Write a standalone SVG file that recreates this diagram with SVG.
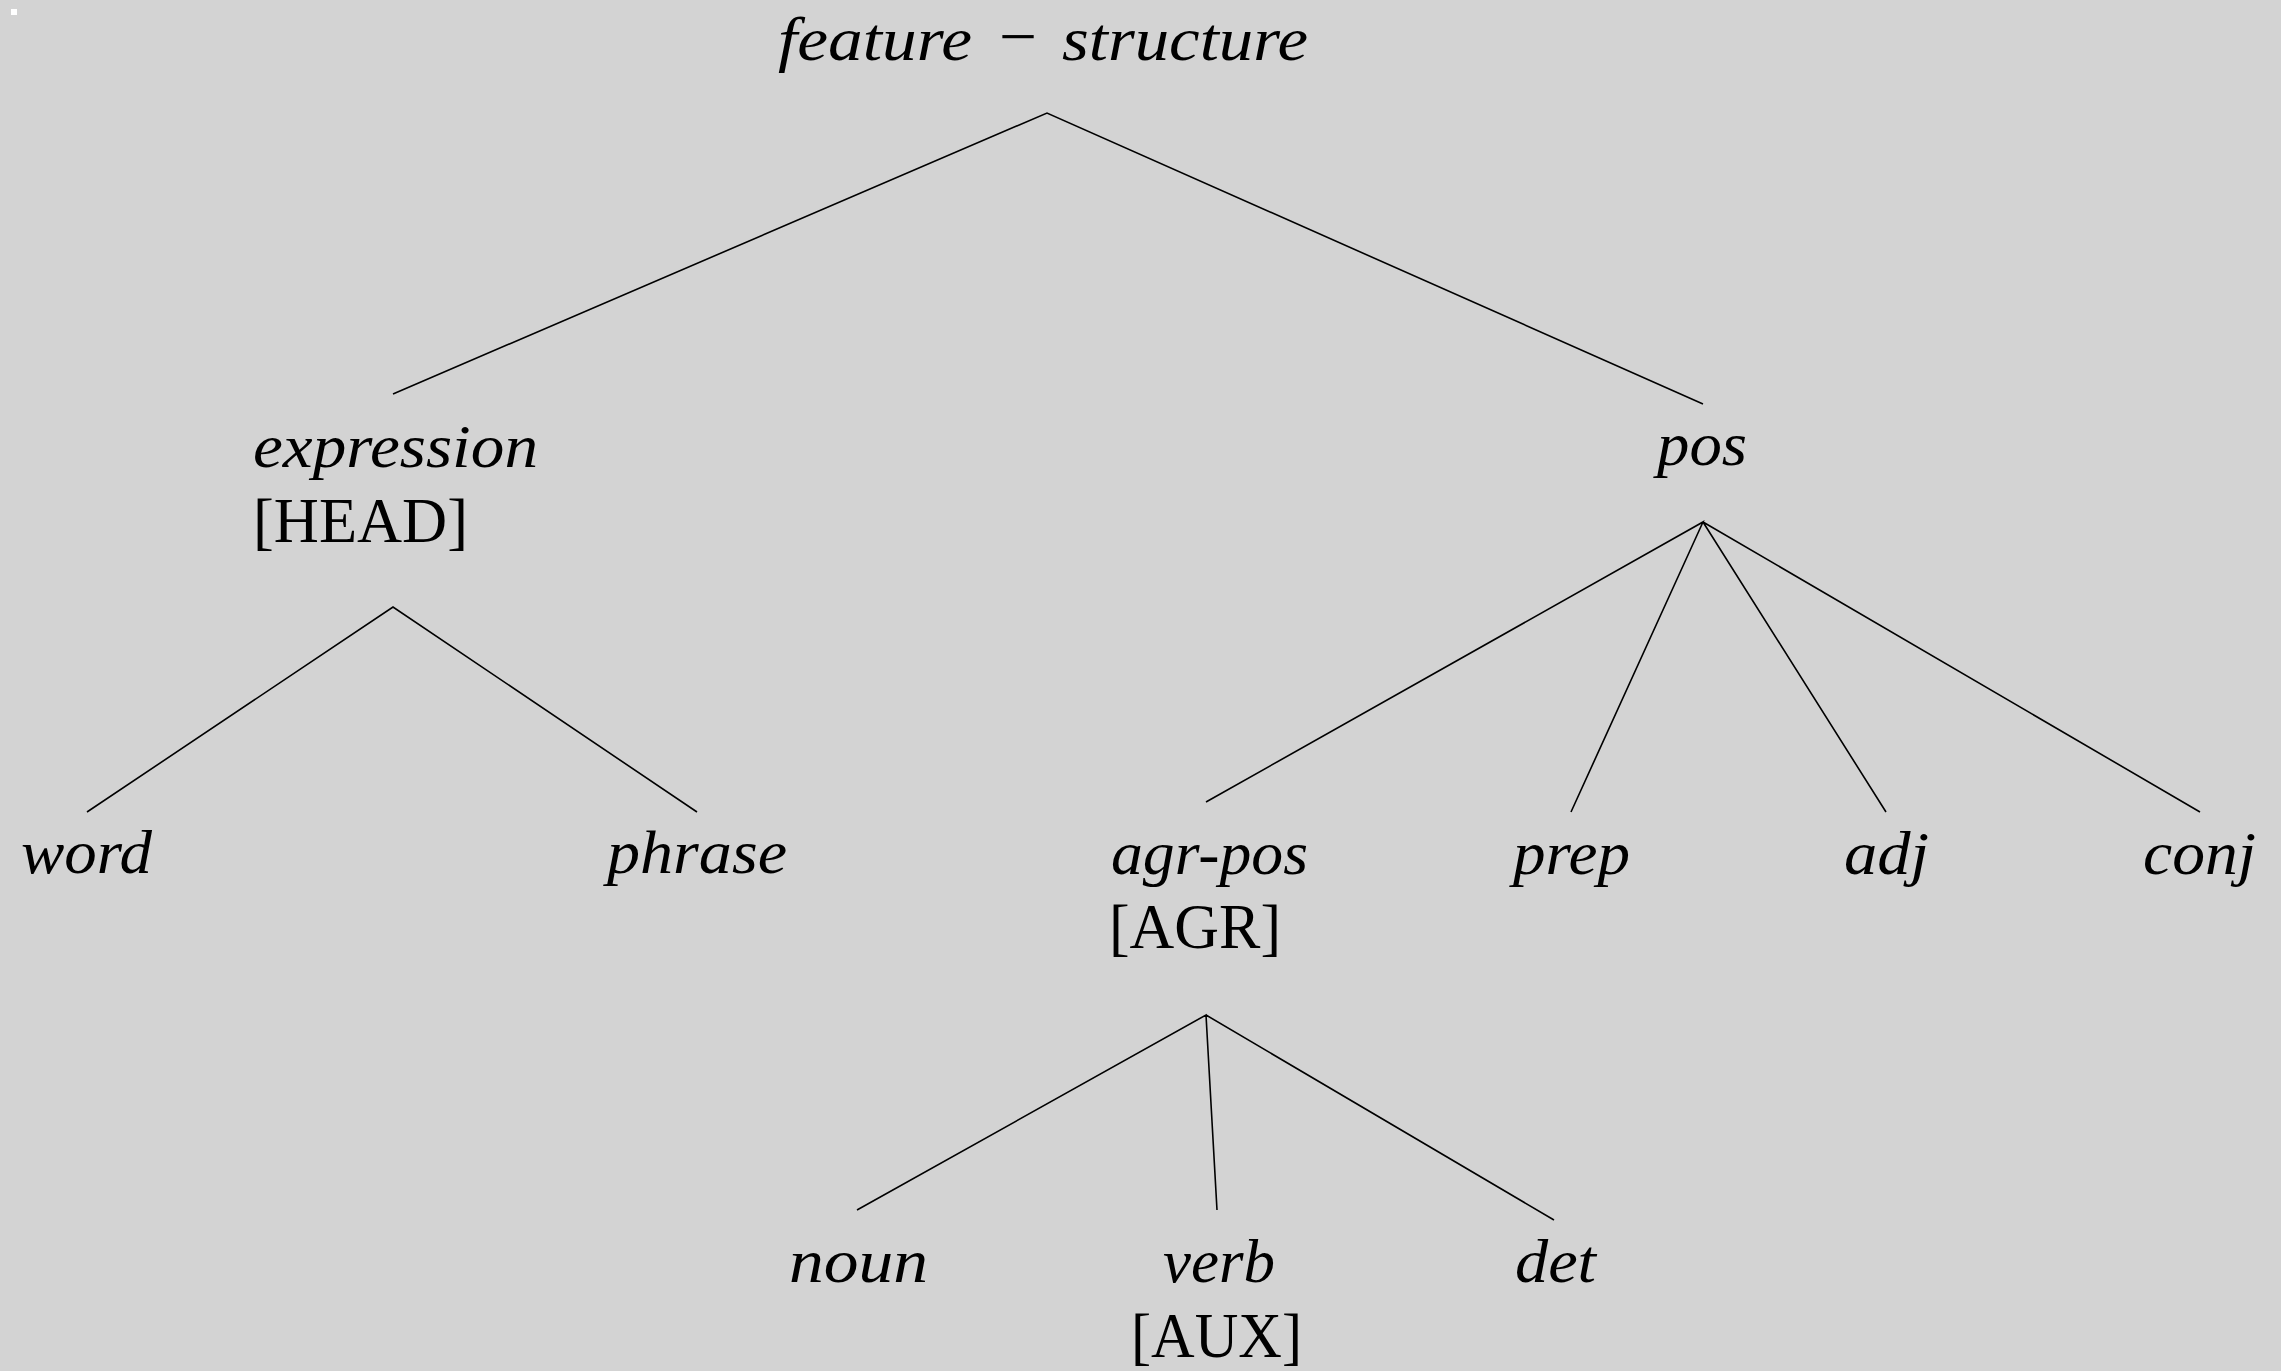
<svg xmlns="http://www.w3.org/2000/svg" width="2281" height="1371" viewBox="0 0 2281 1371">
<style>
.it{font-family:"Liberation Serif","DejaVu Serif",serif;font-style:italic;font-size:62px;fill:#000}
.rm{font-family:"Liberation Serif","DejaVu Serif",serif;font-size:64px;fill:#000}
.edge{stroke:#000;stroke-width:1.6;fill:none}
</style>
<rect x="0" y="0" width="2281" height="1371" fill="#d3d3d3"/>
<rect x="11" y="9" width="6" height="6" fill="#ffffff"/>
<g id="connectors">
<path class="edge" d="M393 394 L1047 113 L1703 404"/>
<path class="edge" d="M87 812 L393 607 L697 812"/>
<path class="edge" d="M1206 802 L1703 522 L1571 812 M1703 522 L1886 812 M1703 522 L2200 812"/>
<path class="edge" d="M857 1210 L1206 1015 L1217 1210 M1206 1015 L1554 1220"/>
</g>
<g id="feature-structure">
<text class="it" x="778" y="60" textLength="194" lengthAdjust="spacingAndGlyphs">feature</text>
<text class="rm" x="999" y="58" textLength="38" lengthAdjust="spacingAndGlyphs">−</text>
<text class="it" x="1062" y="60" textLength="246" lengthAdjust="spacingAndGlyphs">structure</text>
</g>
<g id="expression">
<text class="it" x="253" y="467" textLength="285" lengthAdjust="spacingAndGlyphs">expression</text>
<text class="rm" x="253" y="542" textLength="215" lengthAdjust="spacingAndGlyphs">[HEAD]</text>
</g>
<g id="pos">
<text class="it" x="1657" y="465" textLength="90" lengthAdjust="spacingAndGlyphs">pos</text>
</g>
<g id="word">
<text class="it" x="21" y="873" textLength="131" lengthAdjust="spacingAndGlyphs">word</text>
</g>
<g id="phrase">
<text class="it" x="607" y="873" textLength="180" lengthAdjust="spacingAndGlyphs">phrase</text>
</g>
<g id="agr-pos">
<text class="it" x="1111" y="874" textLength="197" lengthAdjust="spacingAndGlyphs">agr-pos</text>
<text class="rm" x="1109" y="948" textLength="172" lengthAdjust="spacingAndGlyphs">[AGR]</text>
</g>
<g id="prep">
<text class="it" x="1513" y="874" textLength="117" lengthAdjust="spacingAndGlyphs">prep</text>
</g>
<g id="adj">
<text class="it" x="1844" y="874" textLength="85" lengthAdjust="spacingAndGlyphs">adj</text>
</g>
<g id="conj">
<text class="it" x="2143" y="874" textLength="113" lengthAdjust="spacingAndGlyphs">conj</text>
</g>
<g id="noun">
<text class="it" x="789" y="1282" textLength="139" lengthAdjust="spacingAndGlyphs">noun</text>
</g>
<g id="verb">
<text class="it" x="1163" y="1282" textLength="112" lengthAdjust="spacingAndGlyphs">verb</text>
<text class="rm" x="1131" y="1357" textLength="171" lengthAdjust="spacingAndGlyphs">[AUX]</text>
</g>
<g id="det">
<text class="it" x="1515" y="1282" textLength="81" lengthAdjust="spacingAndGlyphs">det</text>
</g>
</svg>
